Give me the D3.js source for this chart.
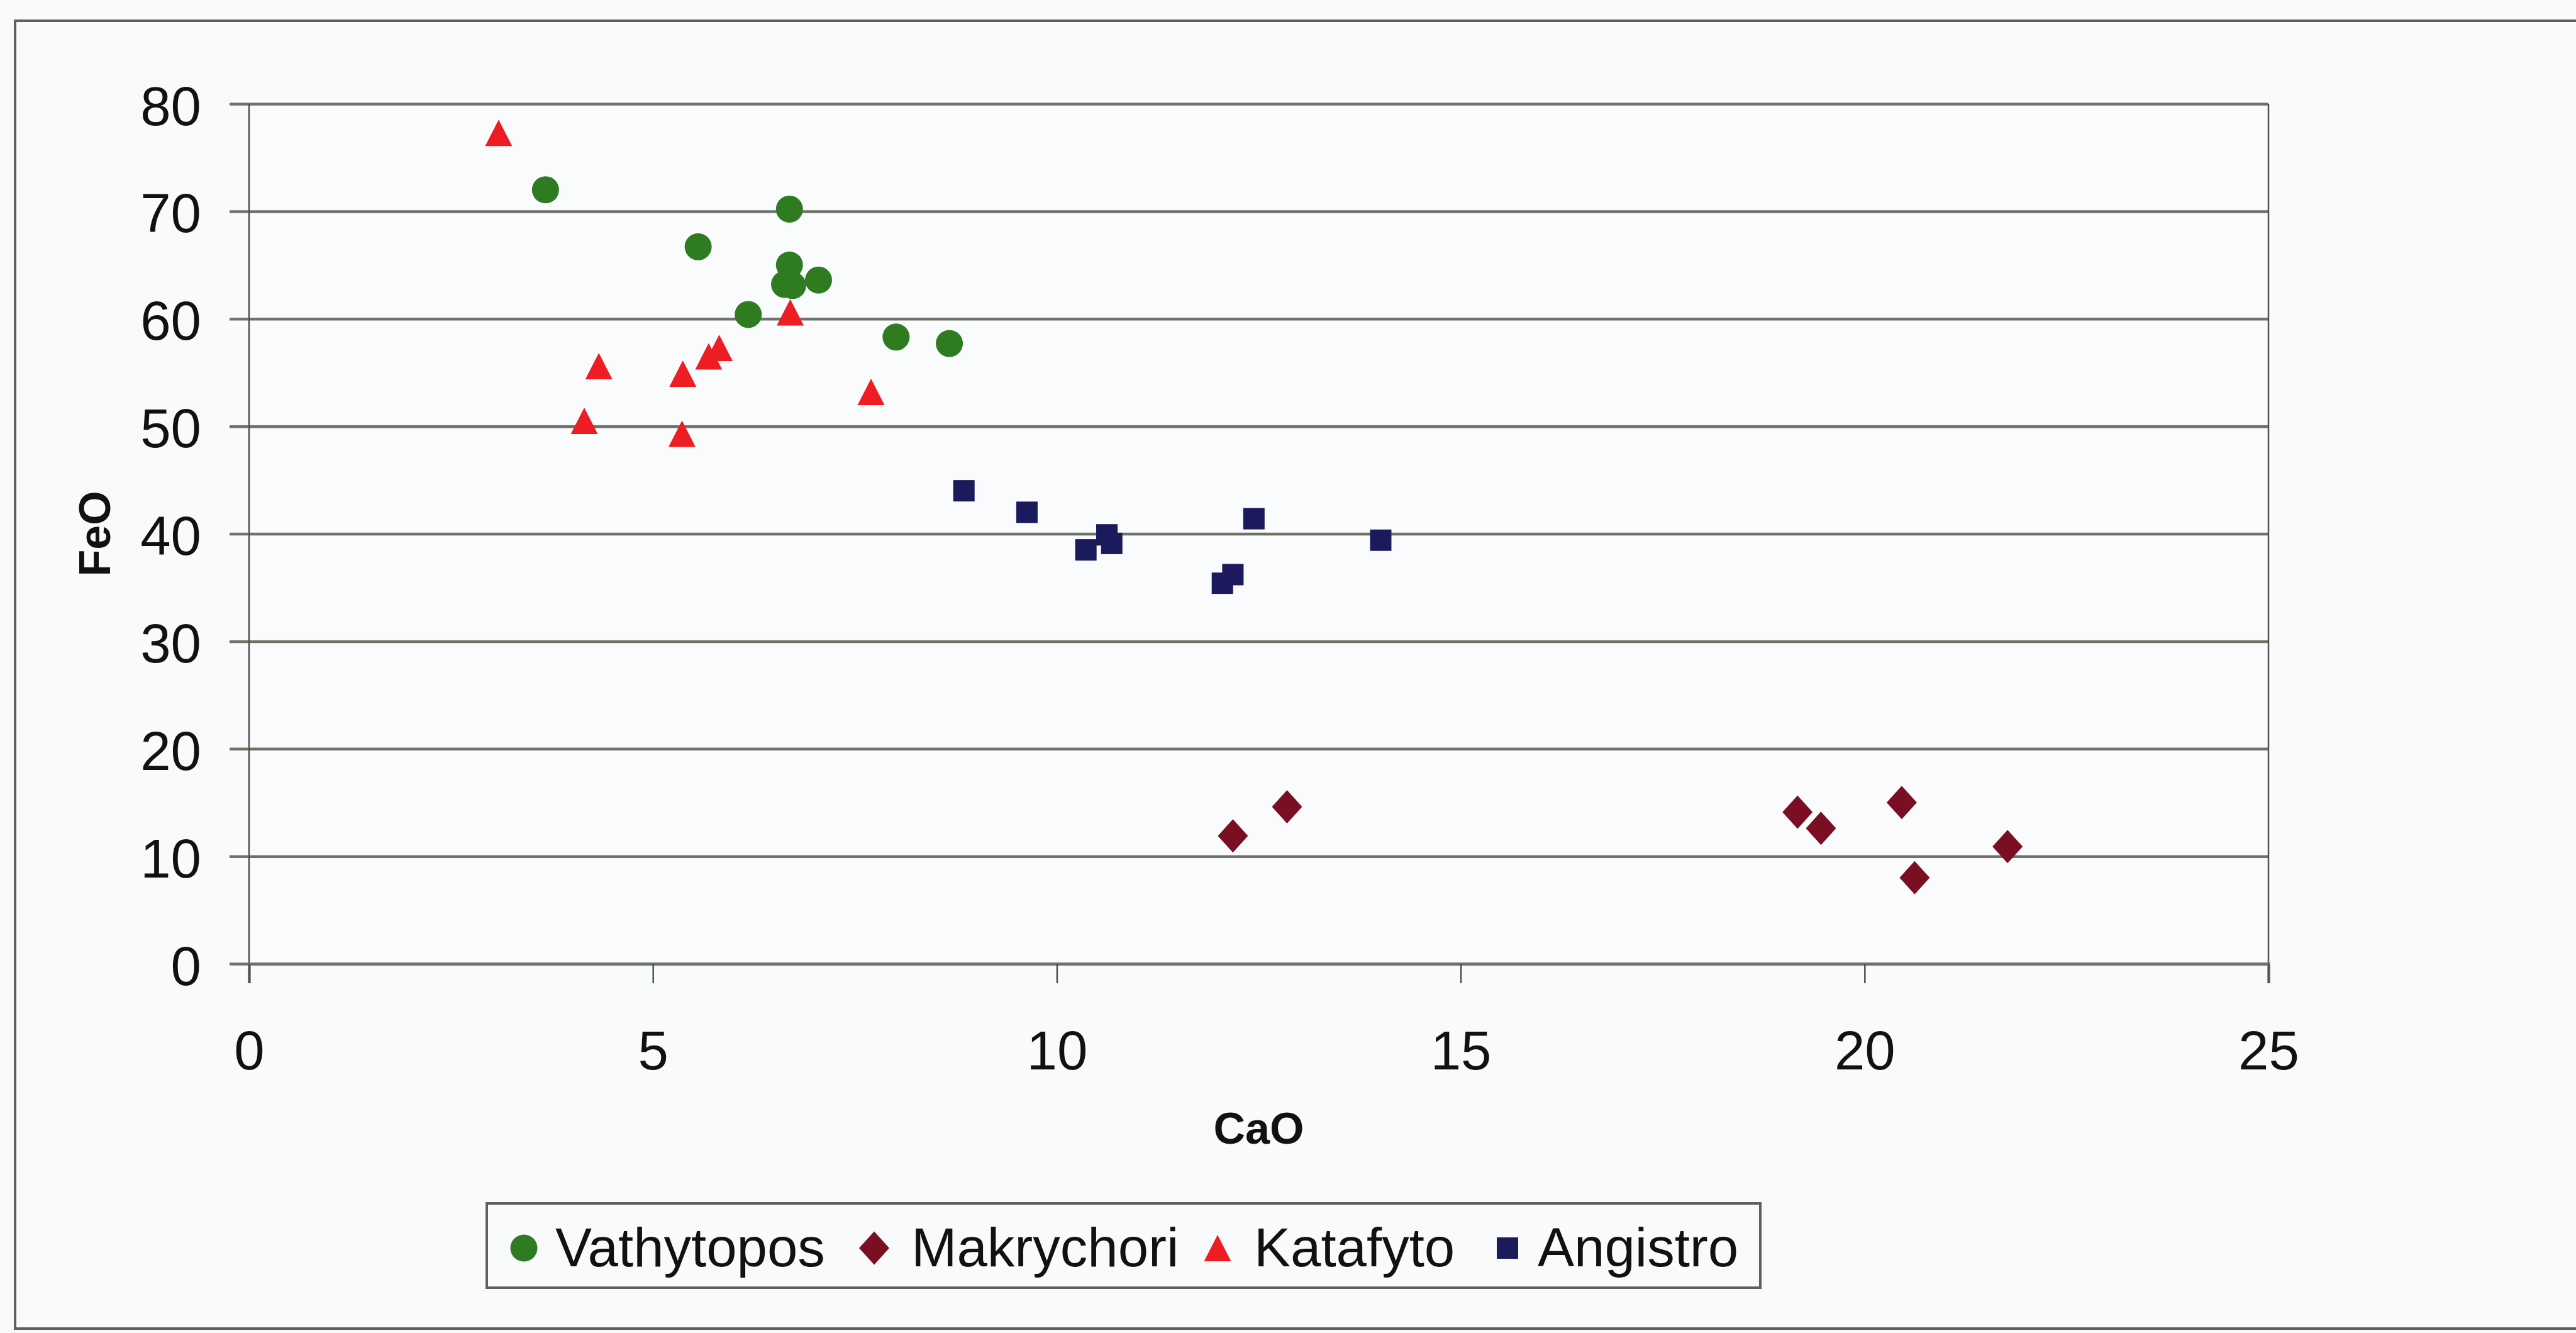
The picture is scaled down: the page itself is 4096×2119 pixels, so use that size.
<!DOCTYPE html>
<html>
<head>
<meta charset="utf-8">
<script src="https://cdn.jsdelivr.net/npm/d3@7"></script>
<style>
  html, body { margin: 0; padding: 0; background: #f8f9fb; }
  svg { display: block; }
  text { font-family: "Liberation Sans", Arial, Helvetica, sans-serif; fill: #111; }
</style>
</head>
<body>
<svg id="chart" width="4096" height="2119"></svg>
<script>
// Axis ticks
const xTicks = [0, 5, 10, 15, 20, 25];
const yTicks = [0, 10, 20, 30, 40, 50, 60, 70, 80];

// Series order as listed in the legend
const seriesNames = ["Vathytopos", "Makrychori", "Katafyto", "Angistro"];

// [CaO, FeO] per sample
const vathytopos = [
  [3.67, 72.0], [6.69, 70.2], [5.56, 66.7], [6.69, 65.0], [6.63, 63.2],
  [6.73, 63.1], [7.05, 63.6], [6.18, 60.4], [8.01, 58.3], [8.67, 57.7]
];
const makrychori = [
  [12.18, 11.9], [12.85, 14.6], [19.17, 14.1], [19.46, 12.6],
  [20.46, 15.0], [20.62, 8.0], [21.77, 10.9]
];
const katafyto = [
  [3.09, 77.3], [4.33, 55.6], [4.15, 50.5], [5.37, 54.9], [5.36, 49.3],
  [5.69, 56.5], [5.82, 57.3], [6.70, 60.6], [7.70, 53.2]
];
const angistro = [
  [8.85, 44.0], [9.63, 42.0], [10.36, 38.5], [10.62, 39.9], [10.68, 39.1],
  [12.44, 41.4], [12.05, 35.4], [12.18, 36.2], [14.01, 39.4]
];

const seriesData = [vathytopos, makrychori, katafyto, angistro];
const seriesColors = ["#2e7b22", "#7a0f24", "#ee1d23", "#1b1a5c"];
const seriesShapes = ["circle", "diamond", "triangle", "square"];

const svg = d3.select("#chart");
const W = 4096, H = 2119;

// Chart area frame
svg.append("rect")
  .attr("x", 24).attr("y", 33)
  .attr("width", W + 20).attr("height", 2112 - 33)
  .attr("fill", "#f9fafc")
  .attr("stroke", "#5d6158").attr("stroke-width", 4);

const plot = { left: 396, right: 3607, top: 165, bottom: 1532 };
const x = d3.scaleLinear().domain([0, 25]).range([plot.left, plot.right]);
const y = d3.scaleLinear().domain([0, 80]).range([plot.bottom, plot.top]);

// Plot area
svg.append("rect")
  .attr("x", plot.left).attr("y", plot.top)
  .attr("width", plot.right - plot.left).attr("height", plot.bottom - plot.top)
  .attr("fill", "#fafbfd");

const tickLen = 31;

// Horizontal gridlines, starting at the outer end of the y tick marks
const grid = svg.append("g")
  .attr("transform", `translate(${plot.left - tickLen},0)`)
  .call(d3.axisRight(y).tickValues(yTicks).tickSize(plot.right - plot.left + tickLen).tickFormat(""));
grid.select(".domain").remove();
grid.selectAll(".tick line").attr("stroke", "#6e7267").attr("stroke-width", 4.5);

// Y axis labels
const yAxis = svg.append("g")
  .attr("transform", `translate(${plot.left},0)`)
  .call(d3.axisLeft(y).tickValues(yTicks).tickSize(0).tickPadding(76));
yAxis.select(".domain").remove();
yAxis.selectAll("text")
  .attr("font-size", 87).attr("fill", "#111")
  .attr("dy", "0.38em")
  .style("font-family", '"Liberation Sans", Arial, sans-serif');

// Y axis line (extends down to the x tick length)
svg.append("line")
  .attr("x1", plot.left).attr("x2", plot.left)
  .attr("y1", plot.top).attr("y2", plot.bottom + tickLen)
  .attr("stroke", "#4e5248").attr("stroke-width", 2.5);

// Right border of the plot area
svg.append("line")
  .attr("x1", plot.right).attr("x2", plot.right)
  .attr("y1", plot.top).attr("y2", plot.bottom)
  .attr("stroke", "#4e5248").attr("stroke-width", 2.5);

// X axis with outside ticks
const xAxis = svg.append("g")
  .attr("transform", `translate(0,${plot.bottom})`)
  .call(d3.axisBottom(x).tickValues(xTicks).tickSize(tickLen).tickPadding(75).tickFormat(d3.format("d")));
xAxis.select(".domain").attr("stroke", "#6e7267").attr("stroke-width", 4.5);
xAxis.selectAll(".tick line").attr("stroke", "#4e5248").attr("stroke-width", 2.5);
xAxis.selectAll("text")
  .attr("font-size", 87).attr("fill", "#111")
  .style("font-family", '"Liberation Sans", Arial, sans-serif');

// Axis titles
svg.append("text")
  .attr("x", (plot.left + plot.right) / 2).attr("y", 1818)
  .attr("text-anchor", "middle")
  .attr("font-size", 70).attr("font-weight", "bold")
  .text("CaO");

svg.append("text")
  .attr("transform", `translate(175,${(plot.top + plot.bottom) / 2}) rotate(-90)`)
  .attr("text-anchor", "middle")
  .attr("font-size", 70).attr("font-weight", "bold")
  .text("FeO");

// Marker drawing
function drawMarker(g, shape, color) {
  if (shape === "circle") {
    g.append("circle").attr("r", 21.5).attr("fill", color);
  } else if (shape === "square") {
    g.append("rect").attr("x", -17).attr("y", -17).attr("width", 34).attr("height", 34).attr("fill", color);
  } else if (shape === "triangle") {
    g.append("path").attr("d", "M0,-21L21.5,21L-21.5,21Z").attr("fill", color);
  } else if (shape === "diamond") {
    g.append("path").attr("d", "M0,-26.5L24,0L0,26.5L-24,0Z").attr("fill", color);
  }
}

const marks = svg.append("g");
seriesData.forEach((data, i) => {
  const groups = marks.append("g").attr("class", "series-" + seriesNames[i])
    .selectAll("g").data(data).join("g")
    .attr("transform", d => `translate(${x(d[0])},${y(d[1])})`);
  groups.each(function () { drawMarker(d3.select(this), seriesShapes[i], seriesColors[i]); });
});

// Legend
const legend = svg.append("g");
legend.append("rect")
  .attr("x", 774).attr("y", 1913)
  .attr("width", 2799 - 774).attr("height", 2047 - 1913)
  .attr("fill", "#f9fafc")
  .attr("stroke", "#5d6158").attr("stroke-width", 4);

const legendMarkerX = [833, 1390, 1936, 2397];
const legendTextX = [883, 1449, 1994, 2445];
seriesNames.forEach((name, i) => {
  const g = legend.append("g").attr("transform", `translate(${legendMarkerX[i]},1984)`);
  drawMarker(g, seriesShapes[i], seriesColors[i]);
  legend.append("text")
    .attr("x", legendTextX[i]).attr("y", 2013)
    .attr("font-size", 87)
    .text(name);
});
</script>
</body>
</html>
